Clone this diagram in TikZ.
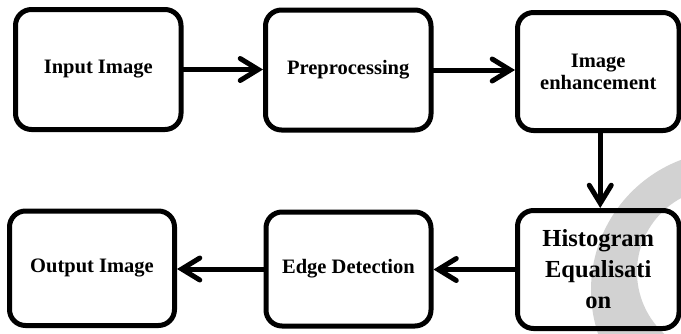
\documentclass[tikz,border=0pt]{standalone}
\usepackage{fontspec}
\setmainfont{Liberation Serif}
\usetikzlibrary{arrows.meta}
\definecolor{ringgray}{RGB}{210,210,210}
\begin{document}
\begin{tikzpicture}[x=1pt,y=-1pt,
  box/.style={draw, line width=5pt, rounded corners=16pt, inner sep=0pt, align=center,
    font=\bfseries\fontsize{20.5}{22}\selectfont},
  bigbox/.style={box, font=\bfseries\fontsize{24.5}{31}\selectfont},
  conn/.style={line width=5pt, line cap=round,
    -{Straight Barb[length=18pt,width=22pt,line cap=round]}}]
\useasboundingbox (0,0) rectangle (681,333);
\fill[ringgray, even odd rule] (730,290) circle[radius=139] (721,272) circle[radius=84];
\node[box, minimum width=165.5pt, minimum height=120pt] (in) at (98.25,69.5) {Input Image};
\node[box, minimum width=165.5pt, minimum height=120pt] (pre) at (348.25,70) {Preprocessing};
\node[box, minimum width=161.5pt, minimum height=118pt] (enh) at (598.25,71.5) {Image\\enhancement};
\node[box, minimum width=165pt, minimum height=114.5pt] (out) at (92,268.25) {Output Image};
\node[box, minimum width=165pt, minimum height=114pt] (edge) at (348.5,269) {Edge Detection};
\node[bigbox, minimum width=161.5pt, minimum height=118pt] (hist) at (598.25,269.5) {Histogram\\Equalisati\\on};
\draw[conn] (in.east) -- (in.east -| pre.west);
\draw[conn] (pre.east) -- (pre.east -| enh.west);
\draw[conn] ([xshift=2pt]enh.south) -- ([xshift=2pt]enh.south |- hist.north);
\draw[conn] (hist.west) -- (hist.west -| edge.east);
\draw[conn] (edge.west) -- (edge.west -| out.east);
\end{tikzpicture}
\end{document}
